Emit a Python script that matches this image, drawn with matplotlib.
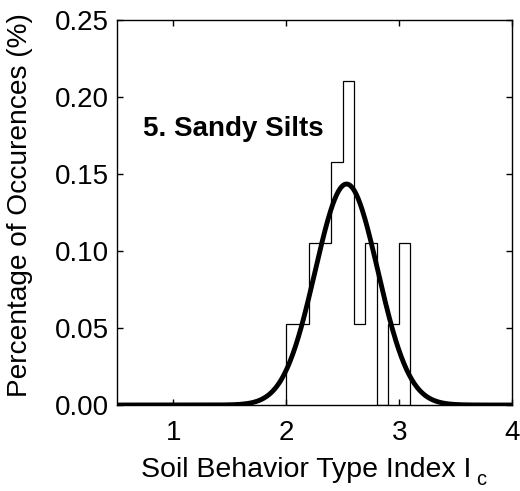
import numpy as np
import matplotlib
matplotlib.use("Agg")
import matplotlib.pyplot as plt

plt.rcParams['font.family'] = ['Liberation Sans', 'DejaVu Sans']

# histogram of Ic for sandy silts (fraction of occurrences per 0.1 bin)
bin_edges = [2.0, 2.1, 2.2, 2.3, 2.4, 2.5, 2.6, 2.7, 2.8, 2.9, 3.0, 3.1]
fractions = [0.0526, 0.0526, 0.1053, 0.1053, 0.1579, 0.2105,
             0.0526, 0.1053, 0.0, 0.0526, 0.1053]

# fitted normal curve
fit_mean = 2.534
fit_std = 0.278
bin_width = 0.1

x_ticks = [1, 2, 3, 4]
y_ticks = [0.00, 0.05, 0.10, 0.15, 0.20, 0.25]

fig = plt.figure(figsize=(5.2, 4.91), dpi=100)
ax = fig.add_axes([117/520, 1 - 405/491, 395/520, 385/491])

ax.stairs(fractions, bin_edges, baseline=0, fill=False, color='black', linewidth=0.9)

xs = np.linspace(0.5, 4, 600)
pdf = bin_width / (fit_std * np.sqrt(2 * np.pi)) * np.exp(-0.5 * ((xs - fit_mean) / fit_std) ** 2)
ax.plot(xs, pdf, color='black', linewidth=3.5, solid_capstyle='butt')

ax.set_xlim(0.5, 4)
ax.set_ylim(0, 0.25)
ax.set_xticks(x_ticks)
ax.set_yticks(y_ticks)
ax.set_yticklabels([f"{v:.2f}" for v in y_ticks])
ax.tick_params(direction='in', top=True, right=True, length=4, width=1,
               labelsize=20)
ax.tick_params(axis='x', pad=11)
ax.tick_params(axis='y', pad=6)
for s in ax.spines.values():
    s.set_linewidth(1)

xl = ax.set_xlabel("Soil Behavior Type Index I", fontsize=20.5)
ax.xaxis.set_label_coords(0.478, -0.135)
ax.set_ylabel("Percentage of Occurences (%)", fontsize=20.2)
ax.yaxis.set_label_coords(-0.213, 0.519)

ax.text(0.73, 0.179, "5. Sandy Silts", fontsize=20, fontweight='bold', va='center')

# big, low subscript "c" after the x label
fig.canvas.draw()
bb = xl.get_window_extent()
fig.text((bb.x1 + 5) / 520, (bb.y0 - 2) / 491, "c", fontsize=14.5,
         va='baseline', ha='left')

fig.savefig("out.png", dpi=100)
